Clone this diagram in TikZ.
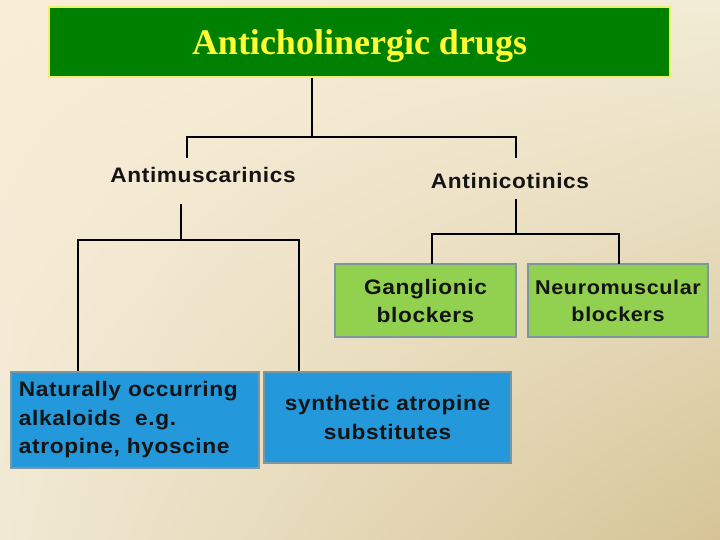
\documentclass[tikz,border=0pt]{standalone}
\usepackage{fontspec}
\setmainfont{Liberation Sans}
\newfontfamily\lblfont[LetterSpace=3,FakeStretch=1.08]{Liberation Sans Bold}
\newfontfamily\titlefont{Liberation Serif}
\usetikzlibrary{shadings}
\definecolor{greenfill}{RGB}{146,208,80}
\definecolor{bluefill}{RGB}{35,152,219}
\definecolor{titlegreen}{RGB}{0,128,0}
\definecolor{titleyellow}{RGB}{255,255,51}
\definecolor{titleborder}{RGB}{240,240,110}
\definecolor{boxborder}{RGB}{125,150,160}
\definecolor{textdark}{RGB}{20,20,20}
\definecolor{bgUL}{RGB}{250,237,215}
\definecolor{bgUR}{RGB}{242,236,214}
\definecolor{bgLL}{RGB}{241,233,212}
\definecolor{bgLR}{RGB}{214,196,150}
\begin{document}
\begin{tikzpicture}[x=1pt,y=-1pt,
  conn/.style={line width=2.2pt,black},
  lbl/.style={font=\lblfont\fontsize{21}{24}\selectfont,text=textdark,align=center,inner sep=0pt},
  greenbox/.style={draw=boxborder,line width=2.5pt,fill=greenfill,text=textdark,font=\lblfont\fontsize{21}{28}\selectfont,align=center,inner sep=0pt},
  bluebox/.style={draw=boxborder,line width=2.5pt,fill=bluefill,text=textdark,font=\lblfont\fontsize{21}{28.5}\selectfont,inner sep=0pt}]
\useasboundingbox (0,0) rectangle (720,540);
\shade[upper left=bgUL,upper right=bgUR,lower left=bgLL,lower right=bgLR]
  (0,0) rectangle (720,540);
% title
\node[draw=titleborder,line width=1.5pt,fill=titlegreen,minimum width=621pt,minimum height=70pt,inner sep=0pt,
  font=\titlefont\bfseries\fontsize{36}{40}\selectfont,text=titleyellow] (title) at (359.5,42) {\raisebox{-13pt}[0pt][0pt]{Anticholinergic drugs}};
% labels
\node[lbl] (amus) at (203,175) {Antimuscarinics};
\node[lbl] (anic) at (510,181) {Antinicotinics};
% boxes
\node[greenbox,minimum width=181pt,minimum height=73pt] (gang) at (425.5,300.5) {Ganglionic\\blockers};
\node[greenbox,minimum width=180pt,minimum height=73pt,font=\lblfont\fontsize{20}{27}\selectfont] (neuro) at (618,300.5) {Neuromuscular\\blockers};
\node[bluebox,minimum width=248pt,minimum height=96pt,align=left,text width=232pt] (nat) at (135,420) {Naturally occurring\\alkaloids\ \ e.g.\\atropine, hyoscine};
\node[bluebox,minimum width=247pt,minimum height=91pt,align=center] (syn) at (387.5,417.5) {synthetic atropine\\substitutes};
% connectors
\coordinate (j1) at (312,137);
\draw[conn] (title.south -| j1) -- (j1);
\draw[conn] (187,158) -- (187,137) -- (516,137) -- (516,158);
\draw[conn] (181,204) -- (181,240);
\draw[conn] (78,371) |- (181,240) -| (299,371);
\draw[conn] (516,199) -- (516,234);
\draw[conn] (432,264) |- (516,234) -| (619,264);
\end{tikzpicture}
\end{document}
